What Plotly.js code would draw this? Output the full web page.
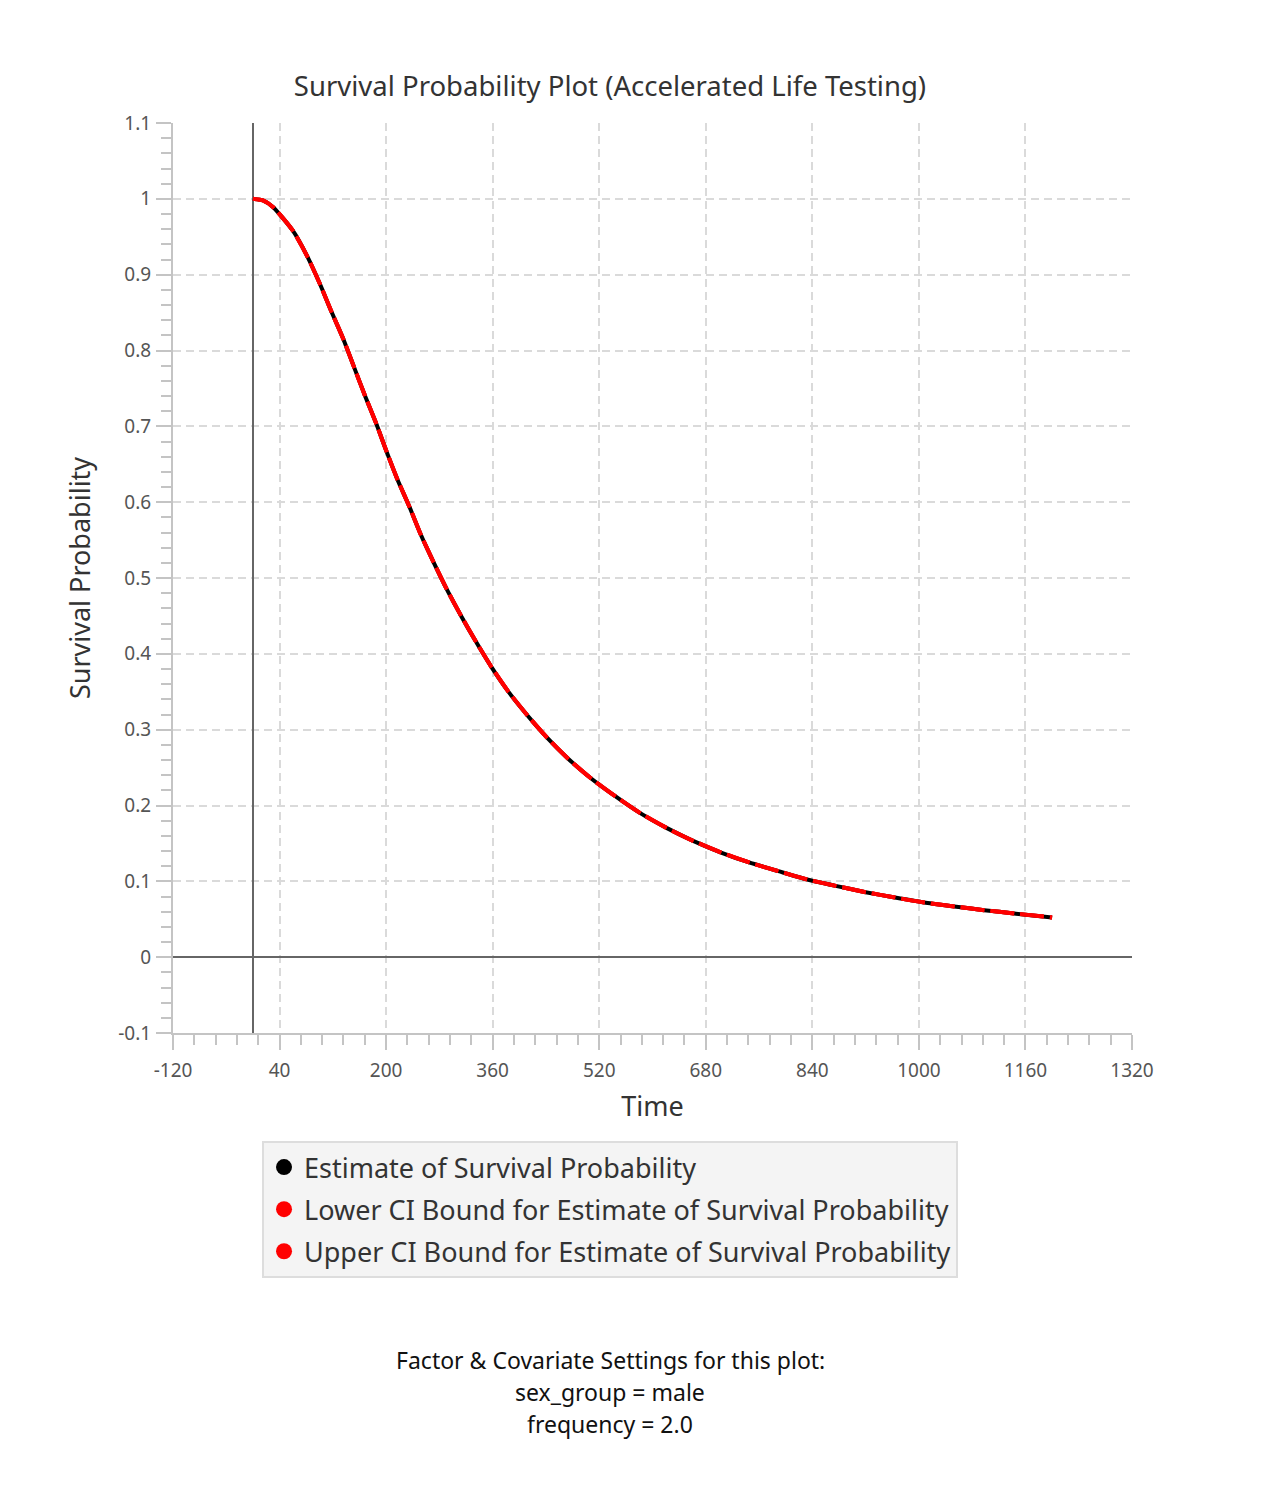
<!DOCTYPE html>
<html>
<head>
<meta charset="utf-8">
<script src="https://cdn.plot.ly/plotly-3.0.1.min.js"></script>
<style>
  html, body { margin: 0; padding: 0; background: #ffffff; }
  #chart { width: 1220px; height: 1490px; }
</style>
</head>
<body>
<div id="chart"></div>
<script>
// Time points along the fitted survival curve
const timePoints = [0, 15, 30, 60, 82, 101, 118, 136, 152, 168, 185, 201, 217, 235, 252, 271, 291, 312, 335, 358, 383, 412, 442, 473, 507, 544, 581, 621, 661, 703, 745, 789, 831, 875, 920, 964, 1008, 1053, 1098, 1143, 1200];

// Estimated survival probability at each time point
const survivalEstimate = [1.0, 0.998, 0.9893, 0.958, 0.9235, 0.887, 0.851, 0.8146, 0.7777, 0.741, 0.704, 0.666, 0.630, 0.594, 0.5574, 0.5213, 0.4853, 0.451, 0.4158, 0.3828, 0.3508, 0.3191, 0.2892, 0.262, 0.2363, 0.2123, 0.1903, 0.1705, 0.1534, 0.1380, 0.1249, 0.1134, 0.1027, 0.094, 0.0857, 0.0787, 0.0721, 0.0669, 0.062, 0.0576, 0.0524];

// Confidence bounds (coincide with the estimate at this resolution)
const lowerBound = [1.0, 0.998, 0.9893, 0.958, 0.9235, 0.887, 0.851, 0.8146, 0.7777, 0.741, 0.704, 0.666, 0.630, 0.594, 0.5574, 0.5213, 0.4853, 0.451, 0.4158, 0.3828, 0.3508, 0.3191, 0.2892, 0.262, 0.2363, 0.2123, 0.1903, 0.1705, 0.1534, 0.1380, 0.1249, 0.1134, 0.1027, 0.094, 0.0857, 0.0787, 0.0721, 0.0669, 0.062, 0.0576, 0.0524];
const upperBound = [1.0, 0.998, 0.9893, 0.958, 0.9235, 0.887, 0.851, 0.8146, 0.7777, 0.741, 0.704, 0.666, 0.630, 0.594, 0.5574, 0.5213, 0.4853, 0.451, 0.4158, 0.3828, 0.3508, 0.3191, 0.2892, 0.262, 0.2363, 0.2123, 0.1903, 0.1705, 0.1534, 0.1380, 0.1249, 0.1134, 0.1027, 0.094, 0.0857, 0.0787, 0.0721, 0.0669, 0.062, 0.0576, 0.0524];

// Axis tick values and their labels
const xTickVals = [-120, 40, 200, 360, 520, 680, 840, 1000, 1160, 1320];
const xTickText = ['-120', '40', '200', '360', '520', '680', '840', '1000', '1160', '1320'];
const yTickVals = [-0.1, 0, 0.1, 0.2, 0.3, 0.4, 0.5, 0.6, 0.7, 0.8, 0.9, 1, 1.1];
const yTickText = ['-0.1', '0', '0.1', '0.2', '0.3', '0.4', '0.5', '0.6', '0.7', '0.8', '0.9', '1', '1.1'];

const seriesNames = [
  'Estimate of Survival Probability',
  'Lower CI Bound for Estimate of Survival Probability',
  'Upper CI Bound for Estimate of Survival Probability'
];
const seriesColors = ['#000000', '#ff0000', '#ff0000'];

const settingsLines = [
  'Factor & Covariate Settings for this plot:',
  'sex_group = male',
  'frequency = 2.0'
];

const FONT = '"Noto Sans", "Open Sans", sans-serif';

const curveTraces = [
  {
    x: timePoints, y: survivalEstimate, mode: 'lines', type: 'scatter',
    line: { color: seriesColors[0], width: 4, shape: 'spline', smoothing: 0.6 },
    showlegend: false, hoverinfo: 'x+y'
  },
  {
    x: timePoints, y: lowerBound, mode: 'lines', type: 'scatter',
    line: { color: seriesColors[1], width: 4, dash: '24px,6px', shape: 'spline', smoothing: 0.6 },
    showlegend: false, hoverinfo: 'x+y'
  },
  {
    x: timePoints, y: upperBound, mode: 'lines', type: 'scatter',
    line: { color: seriesColors[2], width: 4, dash: '24px,6px', shape: 'spline', smoothing: 0.6 },
    showlegend: false, hoverinfo: 'x+y'
  }
];

// Legend entries shown as round markers
const legendTraces = seriesNames.map((name, i) => ({
  x: [null], y: [null], mode: 'markers', type: 'scatter', name: name,
  legendgroup: 'g' + i,
  marker: { color: seriesColors[i], size: 19, symbol: 'circle' },
  hoverinfo: 'skip'
}));

const paperX = 0.4557;
const settingsY = [-0.3593, -0.3945, -0.4297];

const annotations = settingsLines.map((txt, i) => ({
  text: txt, xref: 'paper', yref: 'paper', x: paperX, y: settingsY[i],
  xanchor: 'center', yanchor: 'middle', showarrow: false,
  font: { family: FONT, size: 23, color: '#111111' }
}));

const axisCommon = {
  showline: true, linecolor: '#c4c4c4', linewidth: 2,
  ticks: 'outside', ticklen: 15, tickwidth: 2, tickcolor: '#c4c4c4',
  showgrid: true, gridcolor: '#dadada', gridwidth: 2, griddash: '8px,5px',
  zeroline: true, zerolinecolor: '#666666', zerolinewidth: 2,
  tickfont: { family: FONT, size: 19, color: '#555555' }
};

const layout = {
  width: 1220, height: 1490,
  paper_bgcolor: '#ffffff', plot_bgcolor: '#ffffff',
  margin: { l: 173, r: 88, t: 123, b: 457 },
  title: {
    text: 'Survival Probability Plot (Accelerated Life Testing)',
    font: { family: FONT, size: 27.5, color: '#333333' },
    x: 0.5, xanchor: 'center', y: 1 - 86 / 1490, yanchor: 'middle'
  },
  xaxis: Object.assign({}, axisCommon, {
    range: [-120, 1320], tickmode: 'array', tickvals: xTickVals, ticktext: xTickText,
    ticklabelstandoff: 4,
    minor: { dtick: 32, tick0: -120, ticks: 'outside', ticklen: 10, tickwidth: 2, tickcolor: '#c4c4c4', showgrid: false },
    title: { text: 'Time', font: { family: FONT, size: 27, color: '#333333' }, standoff: 15 }
  }),
  yaxis: Object.assign({}, axisCommon, {
    range: [-0.1, 1.1], tickmode: 'array', tickvals: yTickVals, ticktext: yTickText,
    ticklabelstandoff: 1,
    minor: { dtick: 0.02, tick0: 0, ticks: 'outside', ticklen: 10, tickwidth: 2, tickcolor: '#c4c4c4', showgrid: false },
    title: { text: 'Survival Probability', font: { family: FONT, size: 27, color: '#333333' }, standoff: 20 }
  }),
  legend: {
    orientation: 'v', x: paperX, xanchor: 'center', y: -0.1187, yanchor: 'top',
    bgcolor: '#f4f4f4', bordercolor: '#dddddd', borderwidth: 2,
    font: { family: FONT, size: 27, color: '#333333' },
    traceorder: 'grouped', tracegroupgap: 4
  },
  annotations: annotations,
  showlegend: true
};

Plotly.newPlot('chart', curveTraces.concat(legendTraces), layout, { displayModeBar: false, staticPlot: true });
</script>
</body>
</html>
